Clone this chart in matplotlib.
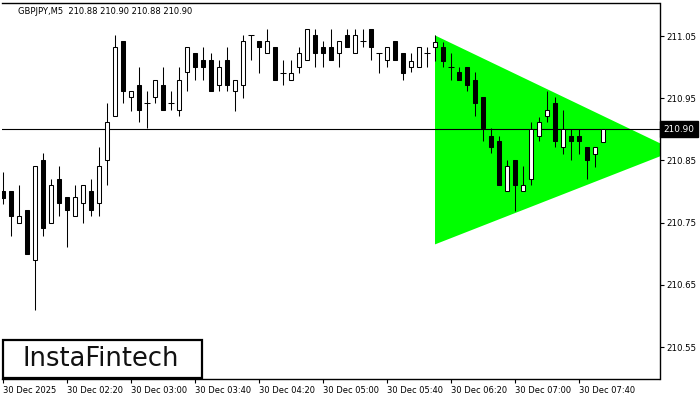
import matplotlib
matplotlib.use("Agg")
import matplotlib.pyplot as plt
from matplotlib.patches import Rectangle
import numpy as np

symbol_title = "GBPJPY,M5  210.88 210.90 210.88 210.90"

opens = [210.801, 210.801, 210.750, 210.771, 210.690, 210.850, 210.750, 210.820, 210.791, 210.760,
         210.781, 210.801, 210.781, 210.850, 210.921, 211.042, 210.952, 210.971, 210.942, 210.952,
         210.971, 210.942, 210.931, 210.992, 211.022, 211.011, 211.011, 210.971, 211.011, 210.961,
         210.971, 211.051, 211.042, 211.022, 211.032, 210.991, 210.980, 211.001, 211.011, 211.052,
         211.032, 211.032, 211.022, 211.052, 211.022, 211.042, 211.062, 211.022, 211.011, 211.042,
         211.022, 211.001, 211.001, 211.022, 211.032, 211.032, 211.001, 210.992, 211.001, 210.980,
         210.952, 210.890, 210.881, 210.801, 210.850, 210.801, 210.820, 210.890, 210.921, 210.942,
         210.871, 210.890, 210.890, 210.871, 210.861, 210.880]
highs = [210.832, 210.801, 210.811, 210.771, 210.841, 210.862, 210.820, 210.841, 210.791, 210.810,
         210.810, 210.820, 210.872, 210.942, 211.052, 211.042, 210.961, 211.001, 210.961, 210.980,
         211.001, 210.961, 211.001, 211.032, 211.022, 211.032, 211.023, 211.011, 211.032, 210.980,
         211.052, 211.051, 211.042, 211.062, 211.032, 211.011, 211.011, 211.032, 211.062, 211.062,
         211.042, 211.062, 211.042, 211.062, 211.062, 211.062, 211.062, 211.022, 211.032, 211.042,
         211.022, 211.022, 211.032, 211.032, 211.051, 211.041, 211.022, 211.001, 211.001, 210.992,
         210.952, 210.902, 210.890, 210.851, 210.850, 210.841, 210.911, 210.920, 210.962, 210.952,
         210.931, 210.901, 210.901, 210.871, 210.871, 210.900]
lows = [210.780, 210.729, 210.750, 210.699, 210.609, 210.729, 210.750, 210.760, 210.711, 210.760,
        210.750, 210.760, 210.760, 210.810, 210.921, 210.942, 210.930, 210.911, 210.902, 210.942,
        210.931, 210.931, 210.921, 210.961, 210.980, 210.980, 210.961, 210.961, 210.961, 210.930,
        210.951, 211.011, 210.991, 211.022, 210.980, 210.971, 210.980, 210.991, 211.011, 211.001,
        211.001, 211.011, 211.001, 211.032, 211.022, 211.032, 211.011, 210.991, 211.001, 211.011,
        210.980, 210.992, 211.001, 211.001, 211.010, 211.001, 210.980, 210.980, 210.961, 210.921,
        210.881, 210.862, 210.810, 210.801, 210.769, 210.801, 210.810, 210.881, 210.911, 210.871,
        210.861, 210.850, 210.861, 210.820, 210.840, 210.880]
closes = [210.790, 210.760, 210.760, 210.699, 210.841, 210.741, 210.810, 210.781, 210.770, 210.791,
          210.810, 210.770, 210.841, 210.911, 211.032, 210.961, 210.961, 210.931, 210.942, 210.980,
          210.931, 210.942, 210.980, 211.032, 211.001, 211.001, 210.961, 211.001, 210.971, 210.980,
          211.042, 211.051, 211.032, 211.042, 210.980, 210.991, 210.991, 211.022, 211.062, 211.022,
          211.022, 211.011, 211.042, 211.032, 211.052, 211.042, 211.032, 211.022, 211.032, 211.011,
          210.991, 211.010, 211.032, 211.022, 211.041, 211.010, 211.001, 210.980, 210.971, 210.942,
          210.902, 210.871, 210.810, 210.841, 210.810, 210.810, 210.901, 210.911, 210.931, 210.881,
          210.901, 210.881, 210.881, 210.850, 210.871, 210.900]

current_price = 210.90
tick_bars = [0, 8, 16, 24, 32, 40, 48, 56, 64, 72]
tick_labels = ["30 Dec 2025", "30 Dec 02:20", "30 Dec 03:00", "30 Dec 03:40", "30 Dec 04:20",
               "30 Dec 05:00", "30 Dec 05:40", "30 Dec 06:20", "30 Dec 07:00", "30 Dec 07:40"]
y_ticks = [211.05, 210.95, 210.85, 210.75, 210.65, 210.55]

tri_bars = [54, 54, 84.0]
tri_prices = [211.051, 210.715, 210.866]

fig = plt.figure(figsize=(7, 4), dpi=100)
ax = fig.add_axes([2/700, 1 - 379/400, 657.5/700, 376.5/400])
ax.set_xlim(-0.125, 82.06)
ax.set_ylim(210.4986, 211.1039)

# triangle
ax.fill(tri_bars, tri_prices, color="#00ff00", lw=0, zorder=1)

# current price line
ax.axhline(current_price, color="black", lw=0.8, zorder=2)

bw = 0.5
lw = 0.75
for i, (o, h, l, c) in enumerate(zip(opens, highs, lows, closes)):
    ax.vlines(i, l, h, color="black", lw=lw, zorder=3)
    if abs(c - o) < 1e-9:
        ax.hlines(o, i - 0.32, i + 0.32, color="black", lw=lw, zorder=4)
    else:
        bottom = min(o, c)
        face = "white" if c > o else "black"
        ax.add_patch(Rectangle((i - bw/2, bottom), bw, abs(c - o), facecolor=face,
                               edgecolor="black", lw=lw, zorder=4))

for s in ["top", "right", "bottom"]:
    ax.spines[s].set_color("black")
    ax.spines[s].set_linewidth(1.0)
ax.spines["left"].set_visible(False)

ax.yaxis.tick_right()
ax.set_yticks(y_ticks)
ax.set_yticklabels([f"{v:.2f}" for v in y_ticks])
ax.tick_params(axis="y", length=3, width=0.8, pad=2, labelsize=6.2, direction="out")
ax.set_xticks(tick_bars)
ax.set_xticklabels(tick_labels, ha="left")
ax.tick_params(axis="x", length=3, width=0.8, pad=2, labelsize=6, direction="out")

# current price label
ax.text(1.006, current_price, f"{current_price:.2f}", transform=ax.get_yaxis_transform(),
        ha="left", va="center", fontsize=6.4, color="white",
        bbox=dict(boxstyle="square,pad=0.4", facecolor="black", edgecolor="black"), zorder=10,
        clip_on=False)

fig.text(18/700, 1 - 12/400, symbol_title, fontsize=6, va="center", ha="left")

# logo
fig.patches.append(Rectangle((3/700, 1 - 378/400), 199/700, 38/400, transform=fig.transFigure,
                             facecolor="white", edgecolor="black", lw=1.6, zorder=20))
fig.text(101/700, 1 - 359/400, "InstaFintech", fontsize=18.5, ha="center", va="center",
         color="#111111", zorder=21)

fig.savefig("out.png", dpi=100)
